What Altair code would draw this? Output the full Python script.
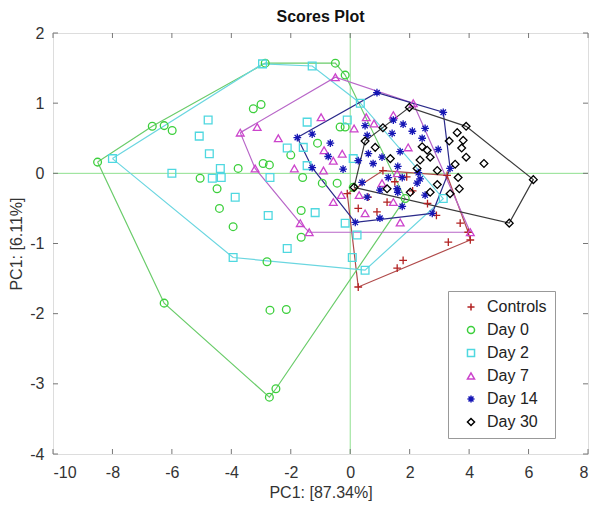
import altair as alt
import pandas as pd

groups = ["Controls", "Day 0", "Day 2", "Day 7", "Day 14", "Day 30"]
point_colors = ["#b22222", "#3ccf3c", "#4fd8e0", "#cc44cc", "#1515b5", "#000000"]
hull_colors = ["#b04a4a", "#6acc6a", "#6ad6e0", "#b866c8", "#2a2a8a", "#3a3a3a"]
plus_path = "M-1,0H1M0,-1V1"
star_path = "M-1,0H1M0,-1V1M-0.7,-0.7L0.7,0.7M-0.7,0.7L0.7,-0.7"
shapes = [plus_path, "circle", "square", "triangle-up", star_path, "diamond"]

x_ticks = [-10, -8, -6, -4, -2, 0, 2, 4, 6, 8]
y_ticks = [-4, -3, -2, -1, 0, 1, 2]

controls_x = [0.27, 1.58, 1.78, -0.1, 0.27, 0.6, 1.24, 2.6, 1.1, 3.26, 3.7, 3.97, 4.04, 3.3, 1.5, 2.1, 0.9, 2.9, 1.9]
controls_y = [-1.62, -1.35, -1.24, -0.29, -0.5, -0.34, -0.41, -0.43, 0.04, -0.03, -0.71, -0.84, -0.95, -0.98, -0.12, -0.25, -0.55, -0.6, -0.05]

day0_x = [-8.5, -6.66, -6.26, -5.99, -2.86, -0.5, -0.17, -3.26, -3.0, -1.1, -2.0, -3.77, -2.93, -2.72,
          -5.05, -4.48, -4.4, -3.94, -6.26, -2.8, -2.7, -2.15, -1.65, -1.6, -0.94, -0.44, -0.34, -0.17,
          0.1, 1.85, -2.72, -2.5, -1.65]
day0_y = [0.16, 0.67, 0.68, 0.61, 1.57, 1.57, 1.4, 0.92, 0.98, 0.43, 0.26, 0.07, 0.14, 0.12,
          -0.07, -0.22, -0.5, -0.76, -1.85, -1.26, -1.95, -1.94, -0.53, -0.06, -0.14, -0.14, 0.66, 0.66,
          -0.2, -0.36, -3.19, -3.07, -0.91]

day2_x = [-8.0, -4.78, -5.08, -4.74, -6.0, -4.64, -4.37, -4.34, -3.87, -3.94, -1.28, -2.95, -2.76, -2.7,
          -1.45, -2.12, -1.58, -0.1, 0.34, 0.1, -1.18, -1.45, -0.17, 0.23, -2.12, 0.07, 0.5, 3.13]
day2_y = [0.21, 0.76, 0.53, 0.28, 0.0, -0.07, 0.07, -0.06, -0.34, -1.2, 1.53, 1.56, -0.6, -0.06,
          0.73, 0.36, 0.37, 0.76, 1.0, 0.21, -0.56, 0.11, -0.71, -0.88, -1.07, -1.2, -1.38, -0.36]

day7_x = [-0.5, -3.7, -3.13, -2.42, -0.98, 0.13, -0.27, -0.88, -1.88, -3.2, -0.9, -0.57, 0.54, 0.8, 1.45,
          -0.57, -0.3, 0.3, 0.5, 1.07, 1.58, -1.68, -1.38, 1.68, 1.45, 2.12, 1.95, 4.04]
day7_y = [1.37, 0.58, 0.66, 0.5, 0.8, 0.64, 0.28, 0.33, 0.07, 0.07, 0.04, 0.18, 0.8, 0.71, 0.83,
          -0.41, -0.31, -0.31, -0.57, -0.14, 0.0, -0.71, -0.84, -0.7, -0.41, 1.0, 0.37, -0.84]

day14_x = [0.9, -1.78, -1.28, -0.67, -0.74, -1.28, -0.24, 0.5, 0.57, 0.27, 0.61, 0.77, 1.07, 1.28, 1.0,
           0.57, 1.41, 1.45, 1.0, 0.17, 1.75, 2.76, 2.52, 1.6, 2.25, 0.4, 3.13, 1.78, 2.09, 2.52, 2.42,
           2.96, 1.68, 1.6, 2.29, 2.35, 3.36, 1.75, 1.58]
day14_y = [1.15, 0.51, 0.56, 0.43, 0.24, 0.08, 0.06, 0.68, 0.54, 0.18, 0.28, 0.14, 0.23, -0.06, -0.24,
           -0.34, 0.57, 0.76, -0.64, -0.7, -0.47, -0.57, -0.31, -0.27, -0.14, -0.13, 0.87, 0.7, 0.6, 0.64, 0.5,
           0.34, 0.31, 0.1, 0.01, -0.08, 0.07, -0.06, -0.22]

day30_x = [1.99, 3.9, 3.6, 3.33, 3.8, 3.75, 3.9, 4.5, 6.16, 5.35, 1.1, 2.42, 2.59, 2.69, 2.35, 2.25, 2.93,
           3.53, 3.63, 3.67, 2.93, 2.69, 3.36, 2.02, 1.35, 1.24, 0.5, 0.84, 0.13]
day30_y = [0.94, 0.67, 0.58, 0.46, 0.47, 0.36, 0.23, 0.14, -0.09, -0.71, 0.65, 0.38, 0.33, 0.23, 0.19, 0.07, 0.04,
           0.13, -0.06, -0.22, -0.16, -0.27, -0.29, -0.27, 0.21, -0.22, 0.46, 0.37, -0.2]

series = {
    "Controls": (controls_x, controls_y),
    "Day 0": (day0_x, day0_y),
    "Day 2": (day2_x, day2_y),
    "Day 7": (day7_x, day7_y),
    "Day 14": (day14_x, day14_y),
    "Day 30": (day30_x, day30_y),
}


def convex_hull(pts):
    pts = sorted(set(pts))
    if len(pts) <= 2:
        return pts

    def cross(o, a, b):
        return (a[0] - o[0]) * (b[1] - o[1]) - (a[1] - o[1]) * (b[0] - o[0])

    lower = []
    for p in pts:
        while len(lower) >= 2 and cross(lower[-2], lower[-1], p) <= 0:
            lower.pop()
        lower.append(p)
    upper = []
    for p in reversed(pts):
        while len(upper) >= 2 and cross(upper[-2], upper[-1], p) <= 0:
            upper.pop()
        upper.append(p)
    return lower[:-1] + upper[:-1]


point_rows = []
hull_dfs = []
for gi, g in enumerate(groups):
    xs, ys = series[g]
    for xv, yv in zip(xs, ys):
        point_rows.append({"x": xv, "y": yv, "group": g, "gi": gi})
    h = convex_hull(list(zip(xs, ys)))
    h = h + [h[0]]
    hull_dfs.append(pd.DataFrame({"x": [p[0] for p in h], "y": [p[1] for p in h], "ord": list(range(len(h)))}))

points_df = pd.DataFrame(point_rows)
xt_df = pd.DataFrame({"x": x_ticks})
yt_df = pd.DataFrame({"y": y_ticks})
zero_df = pd.DataFrame({"x": [0], "y": [0]})

W, H = 535, 421
FONT = "Liberation Sans"

xscale = alt.Scale(domain=[-10, 8], nice=False, zero=False)
yscale = alt.Scale(domain=[-4, 2], nice=False, zero=False)
xaxis = alt.Axis(values=x_ticks, labelExpr="'' + datum.value", domain=False, ticks=False, grid=False,
                 labelFontSize=16, labelFont=FONT, labelColor="#333", labelPadding=10,
                 titleFontSize=16, titleFont=FONT, titleFontWeight="normal", titleColor="#333",
                 titleX=W / 2, titleY=38, titleBaseline="middle")
yaxis = alt.Axis(values=y_ticks, labelExpr="'' + datum.value", domain=False, ticks=False, grid=False,
                 labelFontSize=16, labelFont=FONT, labelColor="#333", labelPadding=9,
                 titleFontSize=16, titleFont=FONT, titleFontWeight="normal", titleColor="#333",
                 titleX=-37, titleY=H / 2, titleBaseline="middle", titleAngle=-90)

X = alt.X("x:Q", scale=xscale, axis=xaxis, title="PC1: [87.34%]")
Y = alt.Y("y:Q", scale=yscale, axis=yaxis, title="PC1: [6.11%]")

zero_v = alt.Chart(zero_df).mark_rule(color="#8fe08f", strokeWidth=1).encode(x=X)
zero_h = alt.Chart(zero_df).mark_rule(color="#8fe08f", strokeWidth=1).encode(y=Y)

hull_layers = [
    alt.Chart(df).mark_line(strokeWidth=1.2, color=c).encode(x=X, y=Y, order="ord:Q")
    for df, c in zip(hull_dfs, hull_colors)
]

pad = "\u00a0" * 14
legend = alt.Legend(title=None, orient="none", legendX=395, legendY=258,
                    strokeColor="#999", fillColor="white", padding=8,
                    labelFontSize=16, labelFont=FONT, labelColor="#222",
                    symbolSize=50, symbolStrokeWidth=1.5, symbolOffset=7,
                    rowPadding=7, labelOffset=8,
                    labelExpr="datum.label + '" + pad + "'")

points_layer = alt.Chart(points_df).mark_point(filled=False, strokeWidth=1.3, size=60, opacity=1).encode(
    x=X, y=Y,
    color=alt.Color("group:N", scale=alt.Scale(domain=groups, range=point_colors), legend=legend),
    shape=alt.Shape("group:N", scale=alt.Scale(domain=groups, range=shapes), legend=legend),
    order="gi:Q",
)

tick_color = "#777"
tb = alt.Chart(xt_df).mark_rule(color=tick_color).encode(x=X, y=alt.value(H), y2=alt.value(H - 5))
tt = alt.Chart(xt_df).mark_rule(color=tick_color).encode(x=X, y=alt.value(0), y2=alt.value(5))
tl = alt.Chart(yt_df).mark_rule(color=tick_color).encode(y=Y, x=alt.value(0), x2=alt.value(5))
tr = alt.Chart(yt_df).mark_rule(color=tick_color).encode(y=Y, x=alt.value(W), x2=alt.value(W - 5))

chart = alt.layer(zero_v, zero_h, *hull_layers, points_layer, tb, tt, tl, tr).properties(
    width=W, height=H,
    title=alt.TitleParams("Scores Plot", fontSize=16, font=FONT, fontWeight="bold", color="#111",
                          anchor="middle", offset=0, frame="group"),
    autosize=alt.AutoSizeParams(type="none"),
    padding={"left": 45, "top": 25, "right": 2, "bottom": 48},
).configure_view(stroke="#999", strokeWidth=1).configure(background="white")

chart.save("out.html", embed_options={"renderer": "svg", "actions": False})
